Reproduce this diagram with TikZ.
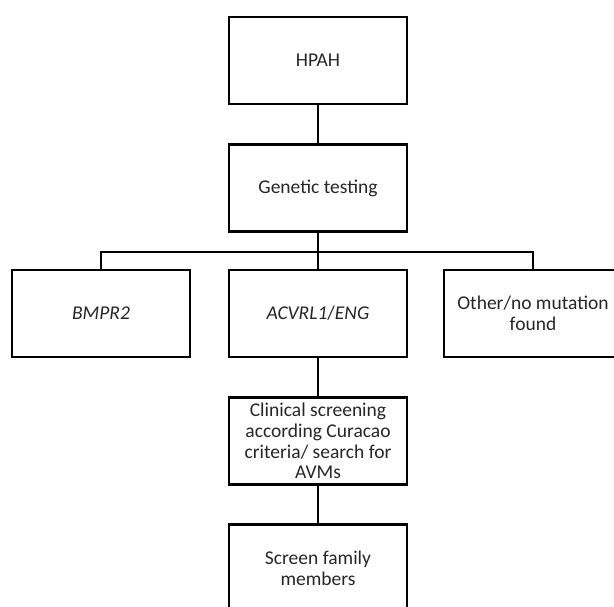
\documentclass[tikz,border=0pt]{standalone}
\usepackage{fontspec}
\setmainfont{Carlito}
\begin{document}
\begin{tikzpicture}[x=1pt,y=-1pt,
  box/.style={draw=black,line width=2.4pt,minimum width=178pt,minimum height=87pt,
    inner sep=2pt,align=center,font=\fontsize{19.5}{20.6}\selectfont,text=black!85},
  link/.style={draw=black,line width=2pt}]
\useasboundingbox (0,0) rectangle (614,606);
\node[box] (hpah) at (318,60.5) {HPAH};
\node[box] (gen) at (318,188) {Genetic testing};
\node[box] (bm) at (101,313.5) {\textit{BMPR2}};
\node[box] (acv) at (318,313.5) {\textit{ACVRL1}/\textit{ENG}};
\node[box] (oth) at (533,313.5) {Other/no mutation\\found};
\node[box] (cli) at (318,441) {Clinical screening\\according Curacao\\criteria/ search for\\AVMs};
\node[box] (scr) at (318,568) {Screen family\\members};
\coordinate (bar) at (318,252);
\draw[link] (hpah) -- (gen);
\draw[link] (gen) -- (bar);
\draw[link] (bar) -| (bm.north);
\draw[link] (bar) -| (oth.north);
\draw[link] (bar) -- (acv);
\draw[link] (acv) -- (cli);
\draw[link] (cli) -- (scr);
\end{tikzpicture}
\end{document}
